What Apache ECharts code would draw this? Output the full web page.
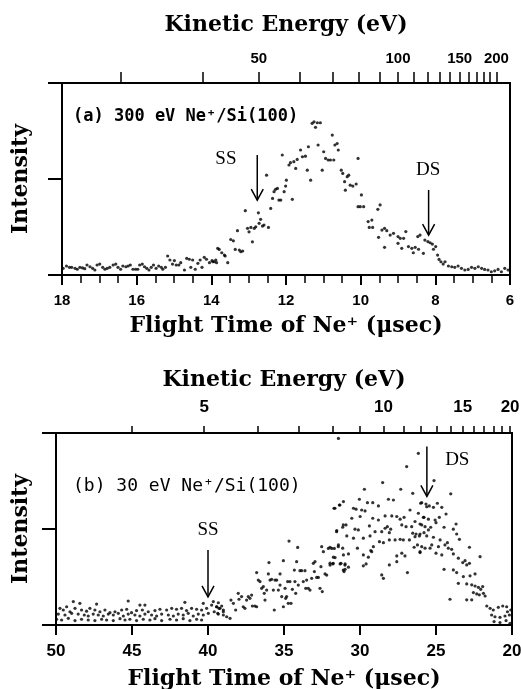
<!DOCTYPE html>
<html>
<head>
<meta charset="utf-8">
<title>Ne+ / Si(100) time-of-flight spectra</title>
<script src="https://cdn.jsdelivr.net/npm/echarts@6/dist/echarts.min.js"></script>
<style>
  html, body { margin: 0; padding: 0; background: #fff; }
  #main { width: 521px; height: 689px; }
</style>
</head>
<body>
<div id="main"></div>
<script>
// E [eV] = K / t[us]^2  (Ne+, same drift length for both panels)
var K = 8100;

var energyTicksA = [30, 40, 50, 60, 70, 80, 90, 100, 110, 120, 130, 140, 150, 160, 170, 180, 190, 200];
var energyLabelsA = [50, 100, 150, 200];
var energyTicksB = [4, 5, 6, 7, 8, 9, 10, 11, 12, 13, 14, 15, 16, 17, 18, 19, 20];
var energyLabelsB = [5, 10, 15, 20];

// arrows: [t, top, tip, labelT, labelV]
var arrowNames = ['SS', 'DS'];
var arrowsA = [[12.77, 0.625, 0.39, 13.61, 0.604], [8.18, 0.443, 0.208, 8.19, 0.547]];
var arrowsB = [[40.0, 0.39, 0.146, 40.0, 0.495], [25.6, 0.93, 0.67, 23.6, 0.86]];

// (a) 300 eV Ne+ : [flight time us, intensity]
var scanA = [
  [17.97,0.035],[17.88,0.047],[17.80,0.040],[17.74,0.040],[17.65,0.035],[17.59,0.030],[17.52,0.040],[17.45,0.037],
  [17.39,0.033],[17.33,0.052],[17.25,0.043],[17.18,0.035],[17.12,0.026],[17.06,0.052],[16.99,0.057],[16.91,0.040],
  [16.85,0.030],[16.79,0.035],[16.72,0.040],[16.63,0.052],[16.56,0.057],[16.50,0.040],[16.43,0.030],[16.37,0.047],
  [16.29,0.043],[16.23,0.047],[16.17,0.052],[16.10,0.030],[16.03,0.030],[15.97,0.030],[15.92,0.052],[15.85,0.057],
  [15.79,0.043],[15.73,0.035],[15.67,0.026],[15.61,0.040],[15.55,0.052],[15.48,0.035],[15.41,0.047],[15.34,0.040],
  [15.30,0.030],[15.23,0.040],[15.17,0.099],[15.11,0.078],[15.04,0.057],[14.99,0.075],[14.94,0.052],[14.87,0.052],
  [14.82,0.064],[14.72,0.026],[14.66,0.087],[14.59,0.082],[14.55,0.040],[14.50,0.078],[14.43,0.030],[14.36,0.061],
  [14.30,0.078],[14.25,0.040],[14.19,0.092],[14.13,0.082],[14.05,0.064],[13.98,0.075],[13.92,0.069],[13.86,0.064],
  [13.83,0.139],[13.96,0.069],[13.88,0.078],[13.79,0.133],[13.72,0.116],[13.65,0.104],[13.63,0.099],[13.56,0.064],
  [13.48,0.185],[13.41,0.178],[13.36,0.133],[13.30,0.231],[13.25,0.130],[13.21,0.121],[13.16,0.125],[13.09,0.335],
  [13.03,0.243],[12.99,0.225],[12.94,0.248],[12.90,0.173],[12.85,0.243],[12.81,0.251],[12.74,0.324],[12.72,0.269],
  [12.68,0.290],[12.63,0.255],[12.59,0.260],[12.52,0.520],[12.47,0.248],[12.41,0.347],[12.36,0.399],[12.32,0.434],
  [12.28,0.446],[12.23,0.451],[12.19,0.390],[12.14,0.390],[12.10,0.625],[12.05,0.434],[12.01,0.463],[11.99,0.494],
  [11.92,0.573],[11.88,0.585],[11.83,0.394],[11.79,0.590],[11.74,0.555],[11.70,0.602],[11.61,0.651],[11.56,0.616],
  [11.48,0.619],[11.43,0.546],[11.40,0.668],[11.34,0.494],[11.30,0.790],[11.25,0.798],[11.21,0.769],[11.16,0.793],
  [11.14,0.677],[11.08,0.793],[11.03,0.546],[10.99,0.642],[10.94,0.607],[10.87,0.599],[10.81,0.599],[10.76,0.729],
  [10.72,0.599],[10.69,0.677],[10.63,0.685],[10.60,0.651],[10.52,0.546],[10.48,0.529],[10.43,0.486],[10.41,0.442],
  [10.36,0.512],[10.32,0.520],[10.28,0.468],[10.21,0.463],[10.12,0.474],[10.07,0.607],[10.07,0.356],[9.98,0.417],
  [10.01,0.356],[9.92,0.356],[9.80,0.278],[9.70,0.286],[9.77,0.248],[9.68,0.248],[9.54,0.342],[9.48,0.365],
  [9.52,0.196],[9.43,0.234],[9.36,0.243],[9.30,0.231],[9.36,0.144],[9.21,0.208],[9.12,0.217],[9.00,0.200],
  [8.94,0.191],[8.85,0.191],[8.79,0.226],[9.00,0.165],[8.90,0.139],[8.72,0.148],[8.63,0.139],[8.54,0.144],
  [8.45,0.134],[8.59,0.116],[8.47,0.200],[8.41,0.208],[8.32,0.113],[8.28,0.182],[8.20,0.174],[8.14,0.168],
  [8.08,0.161],[7.99,0.148],[8.05,0.134],[7.94,0.104],[7.90,0.081],[7.85,0.069],[7.79,0.057],[7.74,0.069],
  [7.65,0.047],[7.56,0.043],[7.48,0.040],[7.39,0.047],[7.30,0.035],[7.21,0.026],[7.12,0.029],[7.03,0.040],
  [6.94,0.035],[6.85,0.043],[6.76,0.035],[6.68,0.029],[6.59,0.026],[6.50,0.017],[6.41,0.022],[6.32,0.029],
  [6.23,0.017],[6.14,0.035],[6.05,0.026]
];

// (b) 30 eV Ne+
var scanB = [
  [48.86,0.122],[48.43,0.113],[47.33,0.109],[45.25,0.125],[44.48,0.104],[44.15,0.104],[41.52,0.118],[40.31,0.113],
  [39.65,0.122],[39.32,0.116],
  [49.74,0.087],[49.52,0.078],[49.30,0.095],[49.08,0.069],[48.75,0.087],[48.32,0.078],[47.99,0.072],[47.77,0.087],
  [47.44,0.078],[47.11,0.069],[46.78,0.078],[46.45,0.064],[46.12,0.069],[45.68,0.078],[45.35,0.082],[45.03,0.064],
  [44.70,0.075],[44.32,0.078],[43.93,0.069],[43.49,0.075],[43.16,0.082],[42.72,0.078],[42.39,0.087],[42.07,0.082],
  [41.74,0.087],[41.41,0.075],[41.08,0.087],[40.75,0.082],[40.42,0.078],[40.09,0.087],[39.76,0.104],[39.43,0.095],
  [39.21,0.087],[38.99,0.078],
  [49.85,0.057],[49.41,0.052],[48.97,0.061],[48.54,0.057],[48.14,0.052],[47.88,0.047],[47.55,0.057],[47.22,0.052],
  [46.89,0.047],[46.56,0.057],[46.23,0.052],[45.90,0.061],[45.57,0.047],[45.25,0.057],[44.81,0.052],[44.48,0.047],
  [44.15,0.057],[43.71,0.052],[43.38,0.047],[43.05,0.057],[42.61,0.052],[42.28,0.047],[41.96,0.057],[41.63,0.052],
  [41.30,0.061],[40.97,0.047],[40.64,0.057],[40.31,0.052],[39.98,0.061],[39.59,0.069],[39.32,0.057],[38.99,0.052],
  [49.96,0.030],[49.63,0.026],[49.19,0.035],[48.75,0.023],[48.32,0.030],[47.88,0.026],[47.44,0.023],[47.00,0.030],
  [46.67,0.026],[46.23,0.023],[45.79,0.033],[45.46,0.026],[45.14,0.030],[44.70,0.023],[44.26,0.030],[43.82,0.026],
  [43.49,0.033],[43.05,0.023],[42.50,0.030],[42.07,0.026],[41.63,0.033],[41.19,0.023],[40.75,0.030],[40.42,0.026],
  [39.43,0.095],[39.28,0.087],[39.10,0.099],[39.36,0.061],[38.99,0.069],[38.77,0.043],[38.55,0.035],[38.49,0.130],
  [38.33,0.113],[38.18,0.078],[38.01,0.165],[37.96,0.134],[37.79,0.148],[37.68,0.095],[37.57,0.087],[37.46,0.130],
  [37.35,0.148],[37.24,0.139],[37.13,0.156],[37.08,0.099],[36.91,0.099],[36.80,0.095],[36.80,0.273],[36.69,0.234],
  [36.58,0.226],[36.47,0.191],[36.36,0.200],[36.30,0.165],[36.25,0.130],[36.14,0.182],[36.03,0.266],[35.99,0.325],
  [35.92,0.234],[35.81,0.238],[35.70,0.182],[35.64,0.078],[35.59,0.234],[35.48,0.234],[35.37,0.182],[35.26,0.208],
  [35.26,0.266],[35.15,0.148],[35.04,0.335],[35.04,0.095],[34.93,0.191],[34.89,0.139],[34.83,0.148],[34.76,0.226],
  [34.72,0.113],[34.67,0.437],[34.61,0.226],[34.54,0.113],[34.45,0.186],[34.32,0.286],[34.28,0.226],[34.23,0.165],
  [34.17,0.330],[34.10,0.404],[34.06,0.208],[33.95,0.283],[33.84,0.283],[33.73,0.226],[33.62,0.283],[33.57,0.191],
  [33.51,0.234],[33.40,0.191],[33.29,0.182],[33.18,0.243],[33.07,0.321],[33.00,0.278],[32.96,0.330],[32.85,0.248],
  [32.74,0.248],[32.63,0.191],[32.57,0.304],[32.52,0.408],[32.48,0.174],[32.41,0.382],[32.30,0.266],[32.19,0.260],
  [32.08,0.399],[31.97,0.312],[31.86,0.399],[31.76,0.321],[31.69,0.399],[31.65,0.608],[31.54,0.486],[31.43,0.408],
  [31.32,0.625],[31.25,0.321],[31.10,0.521],[31.10,0.286],[30.99,0.312],
  [31.42,0.972],[26.16,0.894],[26.93,0.825],[28.51,0.742],[27.32,0.707],[29.71,0.707],[26.53,0.686],
  [31.71,0.608],[31.36,0.625],[31.09,0.643],[30.04,0.655],[29.51,0.637],[29.16,0.637],[28.79,0.620],[28.13,0.655],
  [27.80,0.651],[30.43,0.608],[30.26,0.603],[29.89,0.599],[29.67,0.594],[26.71,0.599],[26.01,0.634],[25.61,0.616],
  [30.54,0.556],[29.99,0.565],[29.16,0.556],[28.79,0.547],[28.35,0.568],[27.91,0.568],[27.58,0.565],[27.36,0.551],
  [27.10,0.561],[26.16,0.582],[25.83,0.561],[30.92,0.521],[31.14,0.509],[31.53,0.492],[30.33,0.499],[30.11,0.495],
  [29.38,0.516],[29.01,0.486],[28.57,0.486],[28.35,0.504],[28.20,0.512],[27.98,0.499],[28.07,0.481],[27.25,0.521],
  [26.97,0.512],[26.60,0.512],[26.38,0.539],[25.94,0.521],[26.53,0.478],[26.31,0.474],[26.09,0.464],[25.79,0.481],
  [25.50,0.495],[30.87,0.464],[30.43,0.452],[29.78,0.452],[29.34,0.464],[28.72,0.434],[28.46,0.429],[28.07,0.443],
  [27.69,0.443],[27.36,0.446],[27.15,0.443],[26.75,0.443],[26.38,0.460],[31.97,0.405],[31.42,0.417],[31.14,0.400],
  [30.17,0.400],[29.29,0.388],[29.12,0.408],[26.22,0.417],[25.94,0.408],[26.44,0.405],[25.39,0.400],[31.75,0.353],
  [31.64,0.351],[31.09,0.365],[30.76,0.370],[29.78,0.365],[29.45,0.353],[29.23,0.382],[27.58,0.360],[27.25,0.374],
  [27.04,0.360],[26.05,0.382],[31.97,0.322],[31.79,0.318],[31.31,0.318],[30.98,0.318],[30.76,0.301],[30.98,0.290],
  [31.05,0.278],[29.78,0.308],[29.60,0.318],[28.07,0.313],[27.58,0.330],[28.57,0.261],[28.46,0.243],[26.88,0.273],
  [25.13,0.752],[24.03,0.683],[25.94,0.637],[25.66,0.630],[25.44,0.620],[25.17,0.613],[24.91,0.634],[24.62,0.613],
  [24.34,0.578],[25.79,0.561],[25.50,0.551],[25.06,0.547],[24.78,0.561],[26.05,0.526],[25.72,0.512],[25.35,0.509],
  [25.00,0.533],[24.47,0.509],[23.86,0.499],[23.68,0.526],[26.05,0.474],[25.61,0.464],[25.17,0.457],[24.73,0.443],
  [24.41,0.417],[24.25,0.429],[23.64,0.474],[23.46,0.446],[25.72,0.400],[25.28,0.417],[24.84,0.408],[26.05,0.377],
  [25.00,0.374],[24.62,0.365],[24.19,0.400],[23.97,0.394],[23.86,0.370],[22.80,0.405],[23.53,0.348],[23.24,0.325],
  [23.09,0.335],[22.98,0.313],[22.80,0.321],[22.10,0.356],[24.47,0.290],[23.86,0.287],[23.64,0.273],[23.20,0.252],
  [22.76,0.256],[22.43,0.266],[23.53,0.217],[22.98,0.214],[22.65,0.209],[22.43,0.203],[22.21,0.196],[22.06,0.186],
  [21.93,0.200],[22.54,0.169],[22.32,0.162],[22.15,0.157],[21.88,0.165],[21.77,0.151],[24.08,0.134],[22.98,0.131],
  [22.65,0.131],[21.66,0.099],[21.44,0.087],[21.23,0.078],[20.90,0.092],[20.61,0.099],[20.35,0.095],[21.34,0.052],
  [21.12,0.043],[20.79,0.040],[20.46,0.047],[20.17,0.052],[21.18,0.018],[20.79,0.013],[20.39,0.023],[20.13,0.009],
  [20.30,0.069],[20.08,0.078]
];

function toTime(e) { return Math.sqrt(K / e); }
function toEnergy(t) { return Math.round(K / (t * t)); }

var serif = 'DejaVu Serif';
var nameStyle = { fontFamily: serif, fontWeight: 'bold', fontSize: 22, color: '#000' };

function tickFont(size) {
  return { fontFamily: 'Liberation Sans', fontWeight: 'bold', fontSize: size, color: '#000' };
}

function timeAxis(grid, min, max, step, gap, labelSize, minor) {
  return {
    type: 'value', gridIndex: grid, position: 'bottom', inverse: true,
    min: min, max: max, interval: step,
    name: 'Flight Time of Ne\u207A (\u03BCsec)', nameLocation: 'middle', nameGap: gap,
    nameTextStyle: nameStyle,
    axisLine: { lineStyle: { color: '#000', width: 2 } },
    axisTick: { length: 10, lineStyle: { color: '#000', width: 2 } },
    minorTick: { show: minor, splitNumber: 4, length: 8, lineStyle: { color: '#000', width: 1.5 } },
    axisLabel: Object.assign({ margin: 18, hideOverlap: false }, tickFont(labelSize)),
    splitLine: { show: false }
  };
}

function energyAxis(grid, min, max, ticks, labels, gap, labelSize, tickLen) {
  return {
    type: 'value', gridIndex: grid, position: 'top', inverse: true,
    min: min, max: max,
    name: 'Kinetic Energy (eV)', nameLocation: 'middle', nameGap: gap,
    nameTextStyle: nameStyle,
    axisLine: { lineStyle: { color: '#000', width: 2 } },
    axisTick: { length: tickLen, customValues: ticks.map(toTime), lineStyle: { color: '#000', width: 1.5 } },
    axisLabel: Object.assign({
      margin: 17, customValues: labels.map(toTime), hideOverlap: false,
      formatter: function (v) { return String(toEnergy(v)); }
    }, tickFont(labelSize)),
    splitLine: { show: false }
  };
}

function intensityAxis(grid, gap) {
  return {
    type: 'value', gridIndex: grid, min: 0, max: 1, interval: 0.5,
    name: 'Intensity', nameLocation: 'middle', nameGap: gap, nameRotate: 90,
    nameTextStyle: nameStyle,
    axisLine: { lineStyle: { color: '#000', width: 2 } },
    axisTick: { length: 14, lineStyle: { color: '#000', width: 2 } },
    axisLabel: { show: false },
    splitLine: { show: false }
  };
}

function arrowSeries(xi, yi, rows) {
  return {
    type: 'custom', xAxisIndex: xi, yAxisIndex: yi, silent: true, clip: false,
    data: rows,
    renderItem: function (params, api) {
      var top = api.coord([api.value(0), api.value(1)]);
      var tip = api.coord([api.value(0), api.value(2)]);
      var lab = api.coord([api.value(3), api.value(4)]);
      return {
        type: 'group',
        children: [
          { type: 'line', shape: { x1: top[0], y1: top[1], x2: tip[0], y2: tip[1] },
            style: { stroke: '#000', lineWidth: 1.5 } },
          { type: 'polyline', shape: { points: [[tip[0] - 6, tip[1] - 11], [tip[0], tip[1]], [tip[0] + 6, tip[1] - 11]] },
            style: { stroke: '#000', fill: null, lineWidth: 1.5 } },
          { type: 'text', x: lab[0], y: lab[1],
            style: { text: arrowNames[params.dataIndex], fontFamily: 'Liberation Serif', fontSize: 19,
                     fill: '#000', align: 'center', verticalAlign: 'middle' } }
        ]
      };
    }
  };
}

function dots(xi, yi, rows) {
  return {
    type: 'scatter', xAxisIndex: xi, yAxisIndex: yi, data: rows,
    symbol: 'circle', symbolSize: 3.2, itemStyle: { color: '#000' }, silent: true
  };
}

var chart = echarts.init(document.getElementById('main'), null, { renderer: 'canvas' });
chart.setOption({
  animation: false,
  backgroundColor: '#fff',
  grid: [
    { left: 62, top: 83, width: 448, height: 192, show: true, borderColor: '#000', borderWidth: 2,
      outerBoundsMode: 'none', containLabel: false },
    { left: 56, top: 433, width: 456, height: 192, show: true, borderColor: '#000', borderWidth: 2,
      outerBoundsMode: 'none', containLabel: false }
  ],
  xAxis: [
    timeAxis(0, 6, 18, 2, 40, 15, true),
    energyAxis(0, 6, 18, energyTicksA, energyLabelsA, 47, 15, 11),
    timeAxis(1, 20, 50, 5, 43, 17, false),
    energyAxis(1, 20, 50, energyTicksB, energyLabelsB, 42, 17, 7)
  ],
  yAxis: [intensityAxis(0, 30), intensityAxis(1, 24)],
  series: [
    dots(0, 0, scanA),
    dots(2, 1, scanB),
    arrowSeries(0, 0, arrowsA),
    arrowSeries(2, 1, arrowsB)
  ],
  graphic: [
    { type: 'text', left: 73, top: 108,
      style: { text: '(a) 300 eV Ne\u207A/Si(100)', fontFamily: 'DejaVu Sans Mono', fontWeight: 'bold', fontSize: 17, fill: '#000' } },
    { type: 'text', left: 73, top: 477,
      style: { text: '(b) 30 eV Ne\u207A/Si(100)', fontFamily: 'DejaVu Sans Mono', fontSize: 18, fill: '#000' } }
  ]
});
</script>
</body>
</html>
